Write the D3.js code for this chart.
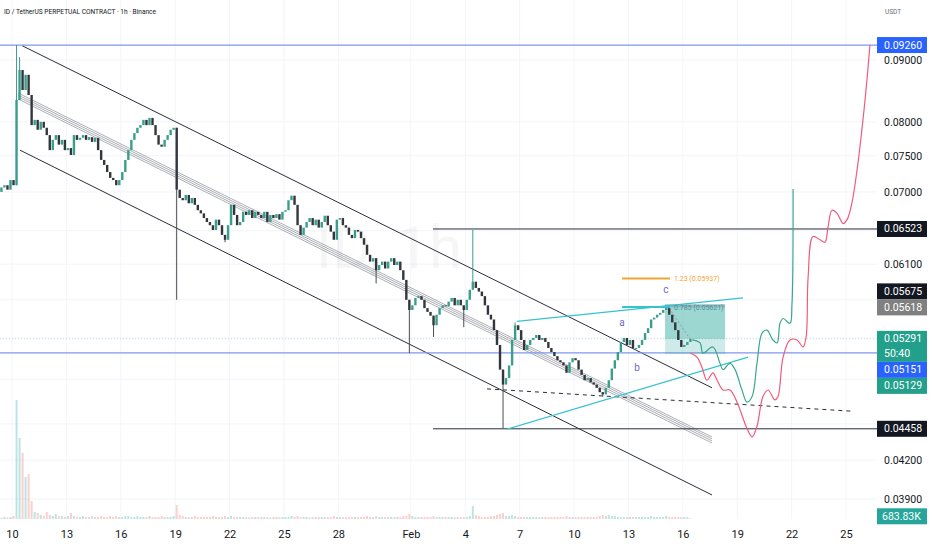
<!DOCTYPE html>
<html><head><meta charset="utf-8">
<script src="https://cdn.jsdelivr.net/npm/d3@7"></script>
<style>body{margin:0;background:#fff}svg{display:block}text{font-family:Roboto,"Liberation Sans",sans-serif}</style>
</head><body><svg id="c" width="932" height="550"></svg>
<script>
// ---------- DATA ----------
const title = "ID / TetherUS PERPETUAL CONTRACT · 1h · Binance";
const quote = "USDT";
const watermark = "ID, 1h";
// x axis: days since Jan 10
const tickDays   = [0,3,6,9,12,15,18,22,25,28,31,34,37,40,43,46];
const tickLabels = ["10","13","16","19","22","25","28","Feb","4","7","10","13","16","19","22","25"];
const axisPrices = [0.09,0.08,0.075,0.07,0.061,0.042,0.039];
const gridPrices = [0.09,0.08,0.075,0.07,0.065,0.061,0.057,0.053,0.049,0.045,0.042,0.039];

// 4h candles (closes), first candle at Jan 9 02:00
const firstCandleDay = -22/24, candleStep = 4/24, firstOpen = 0.0695;
const closes = [
0.0692,0.0700,0.0706,0.0709,0.0703,0.0716,0.0709,0.0834,0.0883,0.0850,
0.0875,0.0842,0.0795,0.0803,0.0788,0.0800,0.0791,0.0780,0.0758,0.0773,
0.0780,0.0766,0.0773,0.0758,0.0761,0.0751,0.0780,0.0773,0.0776,0.0780,
0.0773,0.0777,0.0770,0.0776,0.0758,0.0744,0.0737,0.0727,0.0719,0.0716,
0.0709,0.0716,0.0727,0.0744,0.0758,0.0773,0.0783,0.0791,0.0795,0.0803,
0.0795,0.0806,0.0795,0.0780,0.0766,0.0763,0.0773,0.0780,0.0788,0.0791,
0.0703,0.0692,0.0689,0.0696,0.0685,0.0692,0.0683,0.0676,0.0672,0.0666,
0.0661,0.0657,0.0651,0.0664,0.0657,0.0645,0.0639,0.0657,0.0683,0.0670,
0.0657,0.0661,0.0674,0.0670,0.0676,0.0666,0.0674,0.0670,0.0666,0.0674,
0.0661,0.0670,0.0666,0.0671,0.0664,0.0674,0.0676,0.0689,0.0695,0.0683,
0.0657,0.0645,0.0654,0.0661,0.0666,0.0657,0.0664,0.0654,0.0661,0.0669,
0.0657,0.0649,0.0639,0.0664,0.0666,0.0657,0.0654,0.0645,0.0641,0.0651,
0.0649,0.0641,0.0633,0.0621,0.0613,0.0617,0.0603,0.0609,0.0613,0.0605,
0.0613,0.0617,0.0609,0.0613,0.0603,0.0592,0.0570,0.0559,0.0564,0.0572,
0.0574,0.0570,0.0561,0.0557,0.0553,0.0543,0.0554,0.0561,0.0564,0.0563,
0.0568,0.0572,0.0564,0.0570,0.0564,0.0559,0.0570,0.0581,0.0590,0.0583,
0.0579,0.0574,0.0564,0.0554,0.0549,0.0538,0.0523,0.0499,0.0485,0.0491,
0.0503,0.0528,0.0543,0.0538,0.0528,0.0518,0.0523,0.0528,0.0530,0.0533,
0.0528,0.0530,0.0526,0.0520,0.0516,0.0512,0.0508,0.0506,0.0503,0.0496,
0.0506,0.0510,0.0508,0.0499,0.0494,0.0489,0.0491,0.0487,0.0485,0.0482,
0.0478,0.0476,0.0482,0.0489,0.0500,0.0508,0.0516,0.0526,0.0530,0.0523,
0.0528,0.0520,0.0520,0.0523,0.0528,0.0535,0.0540,0.0549,0.0551,0.0554,
0.0556,0.0559,0.0561,0.0554,0.0546,0.0538,0.0528,0.0521,0.0523,0.0526,
0.05291];
const wickHighs = [[7,0.0926],[8,0.0905],[158,0.0651],[172,0.0546],[222,0.0562]];
const wickLows  = [[60,0.0570],[76,0.0636],[126,0.0588],[137,0.0515],[145,0.0531],[155,0.0541],[168,0.0446],[201,0.0474]];
const volumes = [
1.5,2,1.2,2.2,1.6,2,3,119,81,66,
42,45,18,7,6,4,3,7,4,3,
5,3,3,2,3,6,3,2,2,3,
2,2,3,2,2,3,2,2,3,2,
3,2,2,3,3,2,2,3,2,2,
2,3,2,2,2,3,2,2,2,3,
14,4,3,2,2,2,3,2,2,2,
2,2,3,2,2,2,3,2,3,2,
2,2,2,2,1.5,2,2,2,2,2,
2,1.5,2,2,2,2,2,2,3,2,
3,2,2,2,1.5,2,2,2,2,2,
2,2,3,2,2,2,2,2,2,2,
2,2,2,3,2,2,3,2,2,2,
2,2,2,2,2,3,3,5,3,2,
2,2,2,2,2,3,2,2,2,2,
2,2,2,2,2,2,2,3,13,4,
3,2,2,2,3,3,4,5,6,3,
3,4,3,2,2,2,2,2,2,2,
2,2,2,2,2,2,2,2,2,3,
2,2,2,2,2,2,2,2,2,2,
3,4,3,4,3,3,2,2,2,2,
2,2,2,2,2,2,2,3,2,2,
2,2,3,2,2,2,2,2,2,2,
0.7];

// drawings: [day, price]
const channelUpper = [[0.55,0.0925],[38.61,0.0482]];
const channelLower = [[0.44,0.0758],[38.61,0.0393]];
const midLines = [
 [[0.33,0.08452],[38.61,0.04389]],
 [[0.33,0.08420],[38.61,0.04373]],
 [[0.33,0.08388],[38.61,0.04356]],
 [[0.33,0.08356],[38.61,0.04339]]];
const blueLevels = [0.0926, 0.05151];
const blackLevels = [0.06523, 0.04458];
const blackLevelStart = 23.22;
const dashedLine = [[26.2,0.0481],[46.33,0.0461]];
const wedgeUpper = [[27.85,0.0547],[40.32,0.0572]];
const wedgeLower = [[27.30,0.04455],[40.6,0.0511]];
const fibDays = [33.65,36.29];
const fibLevels = [0.05937, 0.05621];
const fibTexts = ["1.23 (0.05937)", "0.785 (0.05621)"];
const boxDays = [36.02,39.33];
const boxPrices = [0.0565, 0.05291, 0.0514];
const boxDiag = [[36.24,0.0561],[37.4,0.0529]];
const waveLabels = ["a","b","c"];
const wavePos = [[33.65,0.0542],[34.47,0.0498],[36.07,0.0577]];
const greenPath = [[37.51,0.0528],[37.95,0.0525],[38.11,0.0515],[38.66,0.0521],[39.05,0.0505],[39.22,0.0499],[39.60,0.0505],[39.88,0.0499],[40.26,0.0480],[40.54,0.0469],[40.82,0.0474],[41.09,0.0505],[41.37,0.0535],[41.64,0.0538],[41.97,0.0528],[42.20,0.0525],[42.36,0.0545],[42.53,0.0550],[42.91,0.0545],[43.02,0.0565],[43.08,0.0704]];
const redPath = [[37.40,0.0515],[37.78,0.0511],[38.06,0.0501],[38.33,0.0489],[38.66,0.0496],[38.89,0.0489],[39.22,0.0480],[39.60,0.0480],[39.99,0.0469],[40.54,0.0446],[40.82,0.0439],[41.09,0.0448],[41.42,0.0474],[41.70,0.0480],[42.08,0.0471],[42.25,0.0474],[42.53,0.0511],[42.91,0.0528],[43.30,0.0528],[43.63,0.0521],[43.80,0.0531],[43.91,0.0595],[44.18,0.0643],[44.57,0.0639],[44.84,0.0636],[45.01,0.0655],[45.23,0.0676],[45.51,0.0672],[45.84,0.0659],[46.06,0.0664],[46.33,0.0686],[46.61,0.0730],[47.05,0.0834],[47.32,0.0926]];
// right-axis price markers
const markerPrices = [0.09260,0.06523,0.05675,0.05618,0.05291,0.05151,0.05129,0.04458];
const markerColors = ["#2962ff","#131722","#131722","#808080","#22a08c","#2962ff","#22a08c","#131722"];
const currentPrice = 0.05291, countdown = "50:40";
const volumeLabel = "683.83K";

// ---------- CHART ----------
const svg = d3.select("#c");
const W = 932, H = 550, plotR = 877, plotB = 519;
const xs = d3.scaleLinear().domain([0,46]).range([12,846]);
const ys = d3.scaleLog().domain([0.09,0.039]).range([60,499]);
const vs = d3.scaleLinear().domain([0,120]).range([plotB,399]);

svg.append("rect").attr("width",W).attr("height",H).attr("fill","#fff");
svg.append("defs").append("clipPath").attr("id","clip").append("rect").attr("x",0).attr("y",0).attr("width",plotR).attr("height",plotB);
const g = svg.append("g").attr("clip-path","url(#clip)");

// grid
g.selectAll(".hg").data(gridPrices).join("line").attr("x1",0).attr("x2",plotR)
 .attr("y1",d=>ys(d)).attr("y2",d=>ys(d)).attr("stroke","#f2f4f8");
g.selectAll(".vg").data(tickDays).join("line").attr("y1",0).attr("y2",plotB)
 .attr("x1",d=>xs(d)).attr("x2",d=>xs(d)).attr("stroke","#f4f5f9");

// watermark
g.append("text").attr("x",462).attr("y",ys(0.0605)).attr("text-anchor","end").attr("font-size",60).attr("fill","#000").attr("opacity",0.03).text(watermark);

// candles derived
const candles = closes.map((c,i)=>{
  const o = i===0 ? firstOpen : closes[i-1];
  return {i, day:firstCandleDay + i*candleStep, o, c, h:Math.max(o,c), l:Math.min(o,c), v:volumes[i]};
});
wickHighs.forEach(([i,v])=>candles[i].h=v);
wickLows.forEach(([i,v])=>candles[i].l=v);

// volume
g.selectAll(".vol").data(candles).join("rect")
 .attr("x",d=>xs(d.day)-1).attr("width",2)
 .attr("y",d=>vs(d.v)).attr("height",d=>plotB-vs(d.v))
 .attr("fill",d=>d.c>=d.o?"rgba(38,166,154,0.3)":"rgba(239,83,80,0.28)");

// current price line
g.append("line").attr("x1",0).attr("x2",plotR).attr("y1",ys(currentPrice)).attr("y2",ys(currentPrice))
 .attr("stroke","#26a69a").attr("stroke-opacity",0.3).attr("stroke-dasharray","1,2");

const line = d3.line().x(d=>xs(d[0])).y(d=>ys(d[1]));
// channel
[channelUpper, channelLower].forEach(l=>g.append("path").attr("d",line(l)).attr("fill","none").attr("stroke","#2a2e39").attr("stroke-width",1));
midLines.forEach(l=>g.append("path").attr("d",line(l)).attr("fill","none").attr("stroke","#8a8d96").attr("stroke-width",0.7));

// horizontal levels
g.selectAll(".bl").data(blueLevels).join("line").attr("x1",0).attr("x2",plotR)
 .attr("y1",d=>ys(d)).attr("y2",d=>ys(d)).attr("stroke","#7f97ee").attr("stroke-width",1.3);
g.selectAll(".kl").data(blackLevels).join("line").attr("x1",xs(blackLevelStart)).attr("x2",plotR)
 .attr("y1",d=>ys(d)).attr("y2",d=>ys(d)).attr("stroke","#2a2e39").attr("stroke-width",1);
g.append("path").attr("d",line(dashedLine)).attr("fill","none").attr("stroke","#2a2e39").attr("stroke-dasharray","4,4");

// position box
const bx = xs(boxDays[0]), bw = xs(boxDays[1])-xs(boxDays[0]);
g.append("rect").attr("x",bx).attr("width",bw)
 .attr("y",ys(boxPrices[0])).attr("height",ys(boxPrices[1])-ys(boxPrices[0])).attr("fill","rgba(38,166,154,0.45)");
g.append("rect").attr("x",bx).attr("width",bw)
 .attr("y",ys(boxPrices[1])).attr("height",ys(boxPrices[2])-ys(boxPrices[1])).attr("fill","rgba(38,166,154,0.22)");
g.append("rect").attr("x",bx).attr("width",bw)
 .attr("y",ys(boxPrices[0])).attr("height",3).attr("fill","rgba(120,123,134,0.35)");
g.append("path").attr("d",line(boxDiag)).attr("stroke","#9598a1").attr("stroke-dasharray","2,2").attr("fill","none");

// candles
const cg = g.append("g");
cg.selectAll(".wk").data(candles.filter(d=>d.h>Math.max(d.o,d.c)||d.l<Math.min(d.o,d.c))).join("line")
 .attr("x1",d=>xs(d.day)).attr("x2",d=>xs(d.day)).attr("y1",d=>ys(d.h)).attr("y2",d=>ys(d.l))
 .attr("stroke",d=>d.c>=d.o?"#3a9e8c":"#4a4d55").attr("stroke-width",1);
cg.selectAll(".bd").data(candles).join("rect")
 .attr("x",d=>xs(d.day)-1.2).attr("width",2.4)
 .attr("y",d=>ys(Math.max(d.o,d.c))).attr("height",d=>Math.max(1,ys(Math.min(d.o,d.c))-ys(Math.max(d.o,d.c))))
 .attr("fill",d=>d.c>=d.o?"#3a9e8c":"#33363d");

// wedge & fib
[wedgeUpper, wedgeLower].forEach(l=>g.append("path").attr("d",line(l)).attr("fill","none").attr("stroke","#35c3d0").attr("stroke-width",1.2));
const fibCol = ["#f2a531","#35c3d0"], fibTxtCol = ["#f2a531","#4a8fa6"];
fibLevels.forEach((v,k)=>{
  g.append("line").attr("x1",xs(fibDays[0])).attr("x2",xs(fibDays[1])).attr("y1",ys(v)).attr("y2",ys(v)).attr("stroke",fibCol[k]).attr("stroke-width",2);
  g.append("text").attr("x",xs(fibDays[1])+4).attr("y",ys(v)+2.5).attr("font-size",7).attr("fill",fibTxtCol[k]).text(fibTexts[k]);
});
waveLabels.forEach((t,k)=>g.append("text").attr("x",xs(wavePos[k][0])).attr("y",ys(wavePos[k][1])).attr("font-size",10)
  .attr("text-anchor","middle").attr("fill","#6f66c8").text(t));

// projections
const curve = d3.line().x(d=>xs(d[0])).y(d=>ys(d[1])).curve(d3.curveCatmullRom.alpha(0.5));
g.append("path").attr("d",curve(greenPath)).attr("fill","none").attr("stroke","#3aa68e").attr("stroke-width",1.2);
g.append("path").attr("d",curve(redPath)).attr("fill","none").attr("stroke","#ef5b7d").attr("stroke-width",1.2);

// title
svg.append("text").attr("x",4).attr("y",14).attr("font-size",8).attr("textLength",152).attr("lengthAdjust","spacingAndGlyphs").attr("fill","#131722").text(title);
svg.append("text").attr("x",885).attr("y",14).attr("font-size",6.5).attr("fill","#6a6d78").text(quote);

// axes
const xa = svg.append("g").attr("transform",`translate(0,${plotB})`)
 .call(d3.axisBottom(xs).tickValues(tickDays).tickFormat((d,i)=>tickLabels[i]).tickSize(0).tickPadding(11));
xa.select(".domain").remove();
xa.selectAll("text").attr("font-size",11).attr("fill","#131722").attr("font-family","Roboto,sans-serif");
const ya = svg.append("g").attr("transform",`translate(${plotR},0)`)
 .call(d3.axisRight(ys).tickValues(axisPrices).tickFormat(d3.format(".5f")).tickSize(0).tickPadding(7));
ya.select(".domain").remove();
ya.selectAll("text").attr("font-size",10.5).attr("fill","#131722").attr("font-family","Roboto,sans-serif");

// price markers with collision layout around current price
const LH = 16;
const marks = markerPrices.map((p,k)=>({p,col:markerColors[k],y:ys(p),h:p===currentPrice?31:LH,cur:p===currentPrice}));
marks.forEach(m=>{m.top = m.cur ? m.y-8 : m.y-LH/2;});
const cur = marks.find(m=>m.cur);
const above = marks.filter(m=>m.y<cur.y).sort((a,b)=>b.y-a.y);
let limit = cur.top;
above.forEach(m=>{ if(m.top+m.h>limit) m.top = limit-m.h; limit = m.top; });
const below = marks.filter(m=>m.y>cur.y).sort((a,b)=>a.y-b.y);
limit = cur.top+cur.h;
below.forEach(m=>{ if(m.top<limit) m.top = limit; limit = m.top+m.h; });
const mg = svg.append("g");
marks.forEach(m=>{
  mg.append("rect").attr("x",plotR).attr("y",m.top).attr("width",50).attr("height",m.h).attr("fill",m.col);
  mg.append("text").attr("x",plotR+7).attr("y",m.top+11.5).attr("font-size",10.5).attr("fill","#fff").text(d3.format(".5f")(m.p));
  if(m.cur) mg.append("text").attr("x",plotR+7).attr("y",m.top+26).attr("font-size",10.5).attr("fill","#fff").text(countdown);
});
mg.append("rect").attr("x",plotR).attr("y",vs(volumes[volumes.length-1])-10).attr("width",50).attr("height",16).attr("fill","#26a69a");
mg.append("text").attr("x",plotR+5).attr("y",vs(volumes[volumes.length-1])+1.5).attr("font-size",10.5).attr("fill","#fff").text(volumeLabel);
</script></body></html>
